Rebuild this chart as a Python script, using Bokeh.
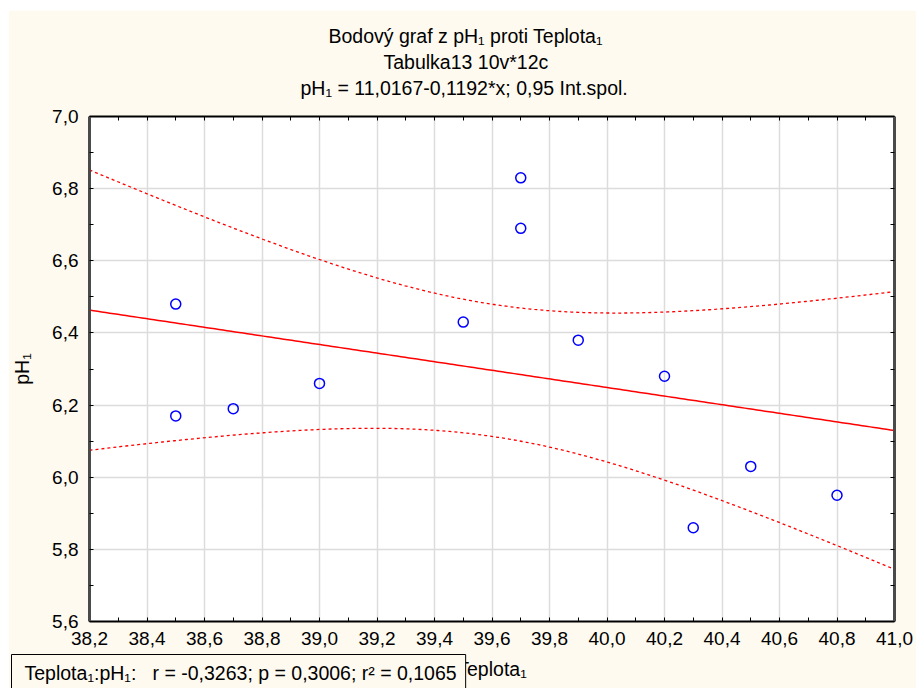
import numpy as np
from bokeh.plotting import figure
from bokeh.models import (Range1d, LinearAxis, FixedTicker, CustomJSTickFormatter, Title)
from bokeh.embed import file_html
from bokeh.resources import INLINE

# ---- data ----
teplota = [38.5, 38.5, 38.7, 39.0, 39.5, 39.7, 39.7, 39.9, 40.2, 40.3, 40.5, 40.8]
ph = [6.48, 6.17, 6.19, 6.26, 6.43, 6.83, 6.69, 6.38, 6.28, 5.86, 6.03, 5.95]
intercept = 11.0167
slope = -0.1192
t_crit = 2.228  # t(0.975; n-2 = 10)

x_ticks = [38.2, 38.4, 38.6, 38.8, 39.0, 39.2, 39.4, 39.6, 39.8, 40.0, 40.2, 40.4, 40.6, 40.8, 41.0]
x_minor = [38.3, 38.5, 38.7, 38.9, 39.1, 39.3, 39.5, 39.7, 39.9, 40.1, 40.3, 40.5, 40.7, 40.9]
y_ticks = [5.6, 5.8, 6.0, 6.2, 6.4, 6.6, 6.8, 7.0]
y_minor = [5.7, 5.9, 6.1, 6.3, 6.5, 6.7, 6.9]

title_lines = ["Bodový graf z pH₁ proti Teplota₁",
               "Tabulka13 10v*12c",
               "pH₁ = 11,0167-0,1192*x; 0,95 Int.spol."]
title_offsets = [239, 294, 211]   # left edge of each line, px right of the plot frame
x_label = "Teplota₁"
y_label = "pH₁"
stats_text = "Teplota₁:pH₁:\u00a0\u00a0\u00a0r = -0,3263; p = 0,3006; r² = 0,1065"

FONT = "Liberation Sans"
FS_TICK = "19px"
FS = "19.5px"
BG = "#FEFAF0"

# ---- regression line and 0.95 confidence band computed from the data ----
x = np.array(teplota)
y = np.array(ph)
n = len(x)
xm = x.mean()
resid = y - (intercept + slope * x)
s = np.sqrt((resid ** 2).sum() / (n - 2))
sxx = ((x - xm) ** 2).sum()
xs = np.linspace(x_ticks[0], x_ticks[-1], 200)
yfit = intercept + slope * xs
hw = t_crit * s * np.sqrt(1.0 / n + (xs - xm) ** 2 / sxx)

W, H = 908, 678
p = figure(width=W, height=H, output_backend="svg", toolbar_location=None,
           x_range=Range1d(x_ticks[0], x_ticks[-1]), y_range=Range1d(y_ticks[0], y_ticks[-1]),
           x_axis_label=x_label, y_axis_label=y_label, title=None,
           min_border_left=80, min_border_right=22, min_border_top=106, min_border_bottom=67)
p.margin = (10, 0, 0, 8)
p.border_fill_color = BG
p.background_fill_color = "white"
p.outline_line_color = None

fmt = CustomJSTickFormatter(code="return tick.toFixed(1).replace('.', ',');")
empty_fmt = CustomJSTickFormatter(code="return '';")

def style_axis(ax, ticks, minor, color, width, labels=True):
    ax.ticker = FixedTicker(ticks=ticks, minor_ticks=minor)
    ax.axis_line_color = color
    ax.axis_line_width = width
    ax.major_tick_in = 4
    ax.major_tick_out = 0
    ax.minor_tick_in = 4
    ax.minor_tick_out = 0
    ax.major_tick_line_color = "black"
    ax.minor_tick_line_color = "black"
    ax.major_label_text_font = FONT
    ax.major_label_text_font_size = FS_TICK
    ax.major_label_text_color = "black"
    ax.axis_label_text_font = FONT
    ax.axis_label_text_font_style = "normal"
    ax.axis_label_text_font_size = FS
    ax.axis_label_text_color = "black"
    ax.formatter = fmt if labels else empty_fmt

xa = p.xaxis[0]
style_axis(xa, x_ticks, x_minor, "black", 2)
xa.major_label_standoff = 10
xa.axis_label_standoff = 10
ya = p.yaxis[0]
style_axis(ya, y_ticks, y_minor, "#4a4a4a", 3)
ya.major_label_standoff = 11
ya.axis_label_standoff = 16

top_ax = LinearAxis()
style_axis(top_ax, x_ticks, x_minor, "black", 2, labels=False)
p.add_layout(top_ax, "above")

# invisible spacer axis: keeps a gap between the frame and the title lines
spacer = LinearAxis(formatter=empty_fmt, ticker=FixedTicker(ticks=x_ticks),
                    axis_line_color=None, major_tick_line_color=None,
                    minor_tick_line_color=None, major_tick_in=0, major_tick_out=17,
                    minor_tick_in=0, minor_tick_out=0)
p.add_layout(spacer, "above")

right_ax = LinearAxis()
style_axis(right_ax, y_ticks, y_minor, "#4a4a4a", 3, labels=False)
p.add_layout(right_ax, "right")

p.xgrid.ticker = FixedTicker(ticks=x_ticks)
p.ygrid.ticker = FixedTicker(ticks=y_ticks)
for g in (p.xgrid[0], p.ygrid[0]):
    g.grid_line_color = "#dcdcdc"
    g.grid_line_width = 1.5

for line, off in reversed(list(zip(title_lines, title_offsets))):
    p.add_layout(Title(text=line, align="left", offset=off, text_font=FONT, text_font_size=FS,
                       text_font_style="normal", text_color="black", standoff=2), "above")

p.line(xs, yfit + hw, line_color="red", line_width=1.3, line_dash="3 3")
p.line(xs, yfit - hw, line_color="red", line_width=1.3, line_dash="3 3")
p.line(xs, yfit, line_color="red", line_width=1.5)
p.scatter(teplota, ph, marker="circle", size=10, fill_color=None,
          line_color="#0000ff", line_width=1.5)

# statistics box below the plot, partly covering the x-axis title
stats = Title(text=stats_text, align="left", offset=-78, vertical_align="top",
              standoff=-56, text_font=FONT, text_font_size=FS, text_font_style="normal",
              text_color="black", background_fill_color=BG, border_line_color="black",
              border_line_width=1, padding=(13, 9, 7, 7))
p.add_layout(stats, "below")

open("out.html", "w").write(file_html(p, INLINE))
